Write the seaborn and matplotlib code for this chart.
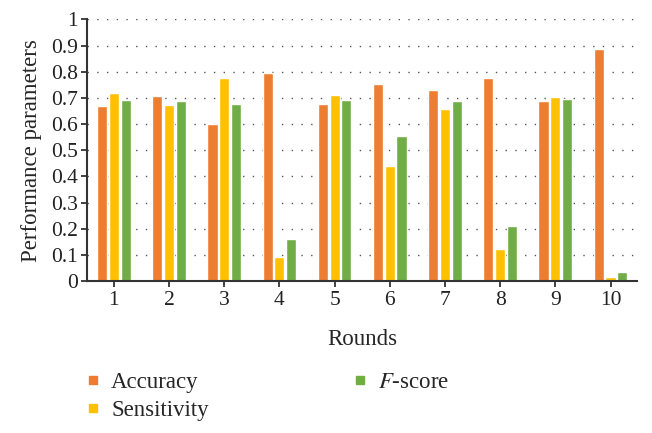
import pandas as pd
import matplotlib
matplotlib.use("Agg")
import matplotlib.pyplot as plt
import seaborn as sns
from matplotlib.lines import Line2D

rounds = ["1", "2", "3", "4", "5", "6", "7", "8", "9", "10"]
accuracy = [0.671, 0.707, 0.600, 0.796, 0.675, 0.753, 0.729, 0.777, 0.690, 0.888]
sensitivity = [0.717, 0.674, 0.775, 0.090, 0.710, 0.439, 0.658, 0.121, 0.704, 0.015]
fscore = [0.694, 0.690, 0.676, 0.162, 0.693, 0.553, 0.690, 0.209, 0.697, 0.033]
series_names = ["Accuracy", "Sensitivity", "F-score"]
colors = ["#ED7D31", "#FFC000", "#70AD47"]

df = pd.DataFrame({
    "Round": rounds * 3,
    "Metric": [series_names[0]] * 10 + [series_names[1]] * 10 + [series_names[2]] * 10,
    "Value": accuracy + sensitivity + fscore,
})

sns.set_style("white")
plt.rcParams["font.family"] = ["Liberation Serif", "DejaVu Serif"]
plt.rcParams["mathtext.fontset"] = "stix"

fig = plt.figure(figsize=(6.52, 4.33), dpi=100)
ax = fig.add_axes([0.134, 0.351, 0.843, 0.604])

sns.barplot(data=df, x="Round", y="Value", hue="Metric", palette=colors,
            saturation=1, width=0.64, gap=0.14, ax=ax, legend=False)

ax.set_ylim(0, 1)
ax.set_xlim(-0.48, 9.48)
ax.set_yticks([i / 10 for i in range(11)])
ax.set_yticklabels(["0"] + [f"{i/10:.1f}" for i in range(1, 10)] + ["1"])
ax.yaxis.grid(True, linestyle=(0, (1, 6)), color="#555555", linewidth=1.0)
ax.set_axisbelow(True)

for s in ["top", "right"]:
    ax.spines[s].set_visible(False)
for s in ["left", "bottom"]:
    ax.spines[s].set_color("#333333")
    ax.spines[s].set_linewidth(1.5)

ax.tick_params(axis="both", labelsize=15.5, colors="#222222", length=4, width=1.2,
               direction="out", bottom=True, left=True, pad=3)
ax.set_xlabel("Rounds", fontsize=16.5, labelpad=14)
ax.set_ylabel("Performance parameters", fontsize=16.5, labelpad=6)

handles = [Line2D([], [], marker="s", linestyle="none", markersize=6,
                  markerfacecolor=c, markeredgecolor=c) for c in colors]
labels = ["Accuracy", "Sensitivity", r"$F$-score"]
fig.legend(handles, labels, ncol=2, loc="upper left", bbox_to_anchor=(0.093, 0.188),
           frameon=False, fontsize=16.5, handletextpad=0.3, columnspacing=6.1,
           labelspacing=0.3, handlelength=1.0)

fig.savefig("out.png", dpi=100)
